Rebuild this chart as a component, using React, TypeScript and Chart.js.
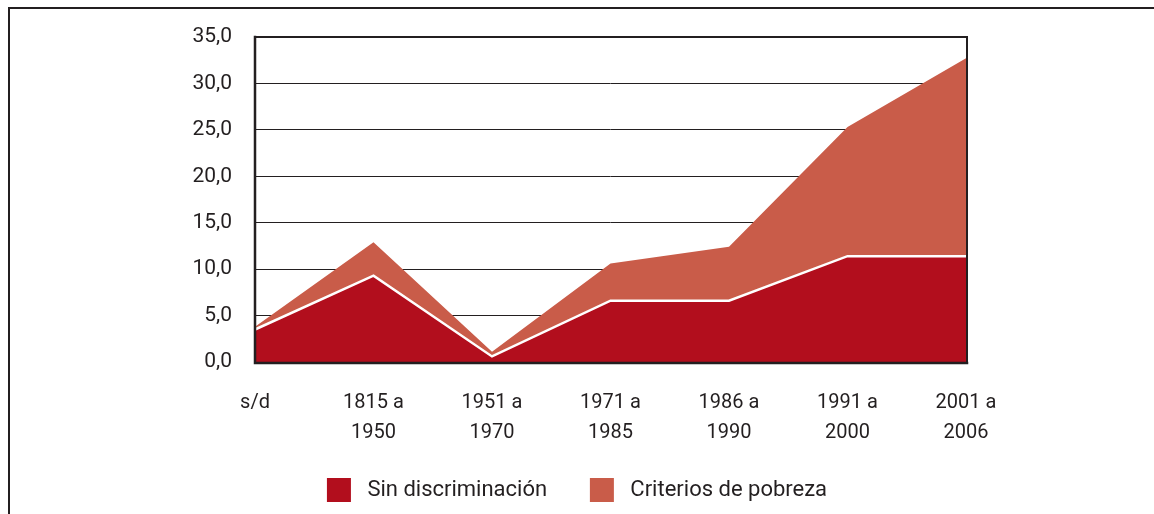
import React, { useEffect, useRef } from 'react';
import { Chart, registerables } from 'chart.js';

Chart.register(...registerables);

const categories: string[][] = [
  ['s/d'],
  ['1815 a', '1950'],
  ['1951 a', '1970'],
  ['1971 a', '1985'],
  ['1986 a', '1990'],
  ['1991 a', '2000'],
  ['2001 a', '2006'],
];
const sinDiscriminacion = [3.5, 9.3, 0.6, 6.6, 6.6, 11.4, 11.4];
const criteriosPobreza = [0.3, 3.6, 0.5, 4.0, 5.8, 13.9, 21.3];
const seriesNames = ['Sin discriminación', 'Criterios de pobreza'];
const seriesColors = ['#b20e1d', '#c95c49'];
const yMin = 0;
const yMax = 35;
const yStep = 5;
const INK = '#231f20';

const framePlugin = {
  id: 'plotFrame',
  afterDatasetsDraw(chart: any) {
    const { ctx, chartArea } = chart;
    const { left, right, top, bottom } = chartArea;
    ctx.save();
    ctx.strokeStyle = INK;
    ctx.lineCap = 'square';
    ctx.lineWidth = 2;
    ctx.beginPath();
    ctx.moveTo(left, top);
    ctx.lineTo(right + 1, top);
    ctx.moveTo(right + 1, top);
    ctx.lineTo(right + 1, bottom);
    ctx.stroke();
    ctx.lineWidth = 2.5;
    ctx.beginPath();
    ctx.moveTo(left, top);
    ctx.lineTo(left, bottom + 1);
    ctx.moveTo(left, bottom + 1);
    ctx.lineTo(right + 1, bottom + 1);
    ctx.stroke();
    ctx.restore();
  },
};

export default function App() {
  const canvasRef = useRef<HTMLCanvasElement | null>(null);

  useEffect(() => {
    if (!canvasRef.current) return;
    const chart = new Chart(canvasRef.current, {
      type: 'line',
      data: {
        labels: categories,
        datasets: [
          {
            label: seriesNames[0],
            data: sinDiscriminacion,
            backgroundColor: seriesColors[0],
            borderColor: '#ffffff',
            borderWidth: 2.5,
            fill: 'origin',
            pointRadius: 0,
            tension: 0,
          },
          {
            label: seriesNames[1],
            data: criteriosPobreza,
            backgroundColor: seriesColors[1],
            borderColor: seriesColors[1],
            borderWidth: 0,
            fill: '-1',
            pointRadius: 0,
            tension: 0,
          },
        ],
      },
      options: {
        responsive: false,
        animation: false,
        devicePixelRatio: 1,
        layout: { padding: { left: 0, right: 0, top: 37, bottom: 2 } },
        plugins: {
          tooltip: { enabled: false },
          legend: {
            position: 'bottom',
            labels: {
              boxWidth: 24,
              boxHeight: 24,
              padding: 10,
              color: INK,
              font: { family: 'Roboto', size: 22 },
              generateLabels: () =>
                seriesNames.map((n, i) => ({
                  text: ' ' + n + (i < seriesNames.length - 1 ? '      ' : ''),
                  fillStyle: seriesColors[i],
                  strokeStyle: seriesColors[i],
                  lineWidth: 0,
                  hidden: false,
                  datasetIndex: i,
                  fontColor: INK,
                })),
            },
          },
        },
        scales: {
          x: {
            grid: { display: false, drawTicks: false },
            border: { display: false },
            ticks: {
              color: INK,
              font: { family: 'Roboto', size: 20, lineHeight: 1.5 },
              padding: 26,
              maxRotation: 0,
              autoSkip: false,
            },
            afterFit: (s: any) => {
              s.height = 106;
            },
          },
          y: {
            stacked: true,
            min: yMin,
            max: yMax,
            ticks: {
              stepSize: yStep,
              color: INK,
              font: { family: 'Roboto', size: 21 },
              padding: 23,
              callback: (v: any) => Number(v).toFixed(1).replace('.', ','),
            },
            grid: { color: INK, lineWidth: 1, drawTicks: false },
            border: { display: false },
            afterFit: (s: any) => {
              s.width = 255;
            },
          },
          y2: {
            type: 'linear',
            position: 'right',
            display: true,
            grid: { display: false, drawTicks: false },
            border: { display: false },
            ticks: { display: false },
            afterFit: (s: any) => {
              s.width = 188;
            },
          },
        },
      },
      plugins: [framePlugin],
    } as any);
    return () => chart.destroy();
  }, []);

  return (
    <div style={{ position: 'fixed', left: 0, top: 0, width: 1154, height: 514, background: '#fff', overflow: 'hidden' }}>
      <div
        style={{
          position: 'absolute',
          left: 8,
          top: 7,
          width: 1300,
          height: 700,
          borderTop: `2px solid ${INK}`,
          borderLeft: `2px solid ${INK}`,
        }}
      />
      <canvas
        ref={canvasRef}
        width={1154}
        height={514}
        style={{ position: 'absolute', left: 0, top: 0, display: 'block' }}
      />
    </div>
  );
}
